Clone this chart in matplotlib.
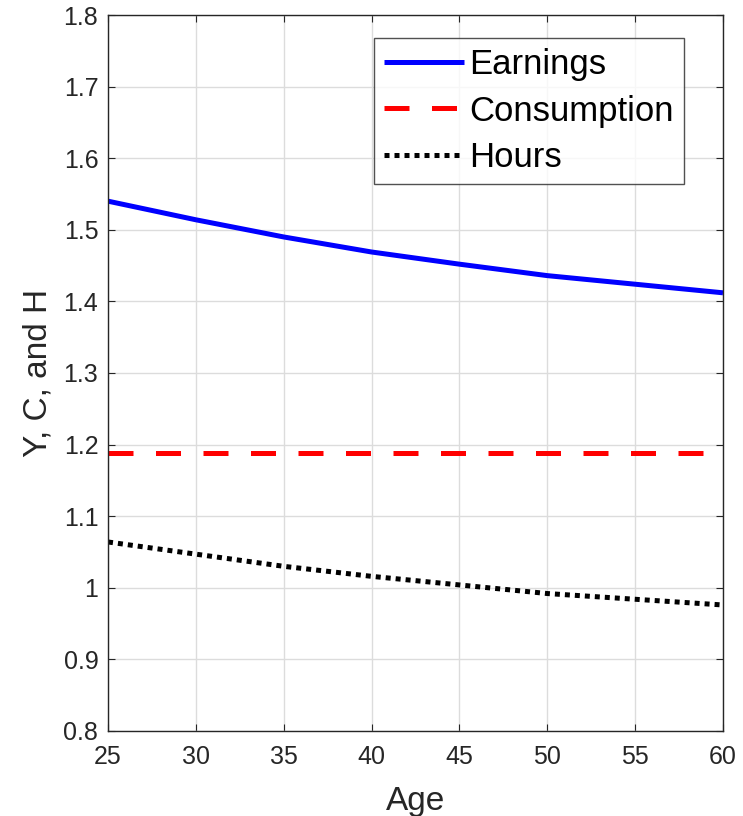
import matplotlib
matplotlib.use("Agg")
import matplotlib.pyplot as plt

age = [25, 30, 35, 40, 45, 50, 55, 60]
earnings = [1.540, 1.514, 1.490, 1.469, 1.452, 1.436, 1.424, 1.412]
consumption = [1.188, 1.188, 1.188, 1.188, 1.188, 1.188, 1.188, 1.188]
hours = [1.064, 1.047, 1.030, 1.016, 1.004, 0.992, 0.984, 0.976]

xticks = [25, 30, 35, 40, 45, 50, 55, 60]
yticks = [0.8, 0.9, 1.0, 1.1, 1.2, 1.3, 1.4, 1.5, 1.6, 1.7, 1.8]
ytick_labels = ["0.8", "0.9", "1", "1.1", "1.2", "1.3", "1.4", "1.5", "1.6", "1.7", "1.8"]

plt.rcParams['font.family'] = ['Liberation Sans', 'DejaVu Sans']

fig = plt.figure(figsize=(7.43, 8.16), dpi=100)
ax = fig.add_axes([108/743, 85/816, 615/743, 716/816])

ax.plot(age, earnings, color='#0000ff', lw=3.6, solid_capstyle='butt', solid_joinstyle='round', label='Earnings')
ax.plot(age, consumption, color='#ff0000', lw=3.6, dashes=(5, 4.5), label='Consumption')
ax.plot(age, hours, color='black', lw=3.6, dashes=(1, 1), label='Hours')

ax.set_xlim(25, 60)
ax.set_ylim(0.8, 1.8)
ax.set_xticks(xticks)
ax.set_yticks(yticks)
ax.set_yticklabels(ytick_labels)
ax.grid(True, color='#dcdcdc', lw=1)
ax.set_axisbelow(True)
ax.tick_params(direction='in', top=True, right=True, labelsize=18, colors='#262626', length=5, pad=7)
ax.tick_params(axis='x', pad=10)
for s in ax.spines.values():
    s.set_color('#262626')
    s.set_linewidth(1)
ax.set_xlabel('Age', fontsize=24, color='#262626', labelpad=12)
ax.set_ylabel('Y, C, and H', fontsize=24, color='#262626', labelpad=7)

leg = ax.legend(loc='upper right', fontsize=25, frameon=True, fancybox=False, edgecolor='#262626',
                handlelength=2.3, handletextpad=0.15, borderpad=0.3, labelspacing=0.38, borderaxespad=0)
leg.get_frame().set_linewidth(1)
leg.set_bbox_to_anchor(((684-108)/615, (731-38)/716), transform=ax.transAxes)

fig.savefig('out.png', dpi=100)
